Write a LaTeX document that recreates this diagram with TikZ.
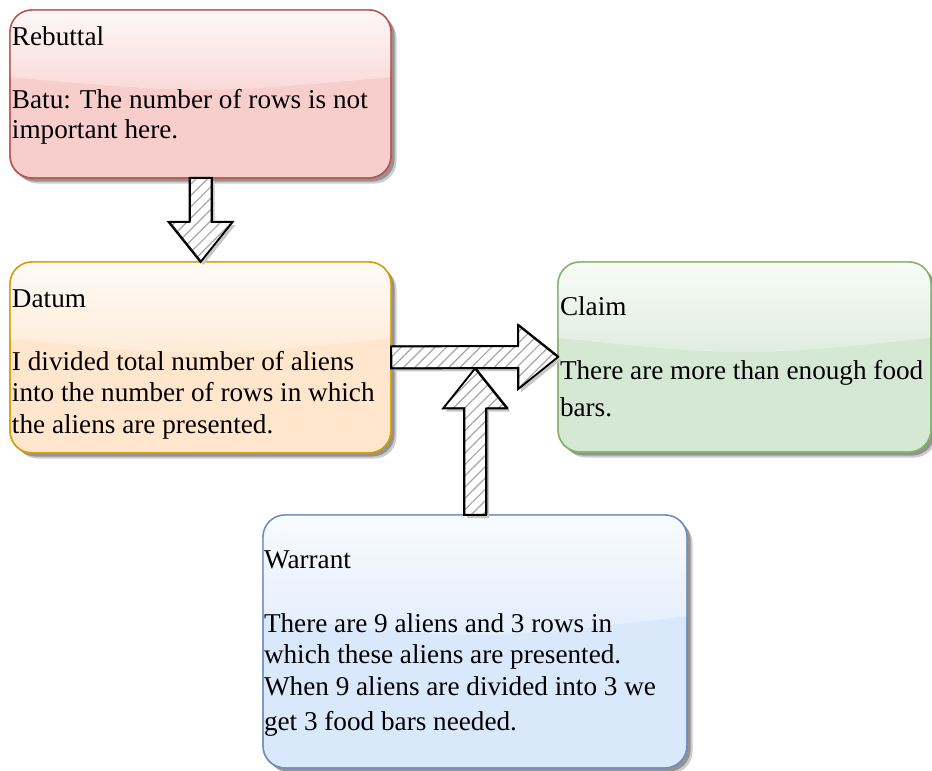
\documentclass[tikz,border=0pt]{standalone}
\usepackage{fontspec}
\setmainfont{Liberation Serif}
\usetikzlibrary{calc,shadows,fadings,patterns.meta}

% glossy highlight over the upper part of each box
\tikzfading[name=gloss, top color=transparent!15, bottom color=transparent!78]

\definecolor{rebfill}{HTML}{F8CECC}\definecolor{rebline}{HTML}{B85450}
\definecolor{datfill}{HTML}{FFE6CC}\definecolor{datline}{HTML}{D79B00}
\definecolor{clmfill}{HTML}{D5E8D4}\definecolor{clmline}{HTML}{82B366}
\definecolor{warfill}{HTML}{DAE8FC}\definecolor{warline}{HTML}{6C8EBF}

\newcommand\boxr{22pt}

\tikzset{
  box/.style={rectangle, rounded corners=\boxr, anchor=north west,
    inner sep=0pt, outer sep=0pt, line width=1.4pt,
    drop shadow={shadow xshift=5.5pt, shadow yshift=-5.5pt, fill=black, opacity=0.2},
    drop shadow={shadow xshift=3.5pt, shadow yshift=-3.5pt, fill=black, opacity=0.28}},
  txt/.style={anchor=base west, inner sep=0pt, outer sep=0pt,
    font=\fontsize{27.2pt}{32pt}\selectfont},
  blockarrow/.style={line width=1.8pt, line join=miter, draw=black,
    preaction={fill=black!22, transform canvas={shift={(3pt,-3pt)}}},
    preaction={fill=white},
    pattern={Lines[angle=45, distance=8pt, line width=1.2pt]},
    pattern color=black!35,
    postaction={draw=black, line width=0.7pt, transform canvas={shift={(0.9pt,0.7pt)}}}}
}

% rounded box with a glass highlight: name, x, y, width, height, fill, line
\newcommand\glassbox[7]{%
  \node[box, fill=#6, draw=#7, minimum width=#4, minimum height=#5] (#1) at (#2,#3) {};
  \begin{scope}
    \clip[rounded corners=\boxr] (#1.north west) rectangle (#1.south east);
    \fill[white, path fading=gloss] (#1.north west) -- (#1.north east)
      -- ($(#1.north east)!0.4!(#1.south east)$)
      .. controls ($(#1.north)!0.5!(#1.south)$) ..
      ($(#1.north west)!0.4!(#1.south west)$) -- cycle;
  \end{scope}
  \draw[draw=#7, line width=1.4pt, rounded corners=\boxr]
    (#1.north west) rectangle (#1.south east);
}

% hand-drawn block arrow from one point to another
\newcommand\sketcharrow[2]{%
  \coordinate (hb) at ($(#2)!40pt!(#1)$);
  \path[blockarrow]
    ($(#1)!11pt!90:(#2)$) -- ($(hb)!11pt!90:(#2)$) -- ($(hb)!32pt!90:(#2)$)
    -- (#2) -- ($(hb)!32pt!-90:(#2)$) -- ($(hb)!11pt!-90:(#2)$)
    -- ($(#1)!11pt!-90:(#2)$) -- cycle;
}

\begin{document}
\begin{tikzpicture}[x=1pt, y=-1pt]
  \useasboundingbox (0,0) rectangle (932,771);

  % boxes
  \glassbox{reb}{10}{10}{381pt}{168pt}{rebfill}{rebline}
  \glassbox{dat}{10}{262}{381pt}{191pt}{datfill}{datline}
  \glassbox{clm}{558}{262}{373pt}{190pt}{clmfill}{clmline}
  \glassbox{war}{263}{515}{424pt}{253pt}{warfill}{warline}

  % texts
  \node[txt] (rebT) at (12,45) {Rebuttal};
  \node[txt] (reb1) at (12,108) {Batu: The number of rows is not};
  \node[txt] (reb2) at (12,138) {important here.};

  \node[txt] (datT) at (12,307) {Datum};
  \node[txt] (dat1) at (12,370) {I divided total number of aliens};
  \node[txt] (dat2) at (12,401.5) {into the number of rows in which};
  \node[txt] (dat3) at (12,433) {the aliens are presented.};

  \node[txt] (clmT) at (560,315) {Claim};
  \node[txt] (clm1) at (560,379) {There are more than enough food};
  \node[txt] (clm2) at (560,416) {bars.};

  \node[txt] (warT) at (264,568) {Warrant};
  \node[txt] (war1) at (264,632) {There are 9 aliens and 3 rows in};
  \node[txt] (war2) at (264,663) {which these aliens are presented.};
  \node[txt] (war3) at (264,695) {When 9 aliens are divided into 3 we};
  \node[txt] (war4) at (264,730) {get 3 food bars needed.};

  % connectors
  \sketcharrow{reb.south}{dat.north}
  \sketcharrow{dat.east}{clm.west}
  \coordinate (wtip) at ($(war.north |- dat.east)+(0,11)$);
  \sketcharrow{war.north}{wtip}
\end{tikzpicture}
\end{document}
